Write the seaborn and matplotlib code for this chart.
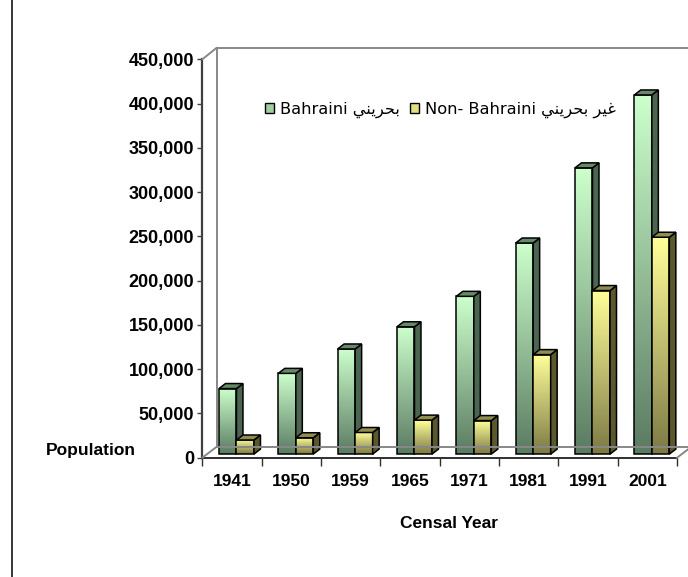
import numpy as np
import pandas as pd
import seaborn as sns
import matplotlib
matplotlib.use('Agg')
import matplotlib.pyplot as plt
from matplotlib import transforms
from matplotlib.lines import Line2D
from matplotlib.patches import Polygon, Patch
from matplotlib.colors import to_rgb
from matplotlib.ticker import FuncFormatter, FixedLocator

# Census data (Bahrain)
years = ['1941', '1950', '1959', '1965', '1971', '1981', '1991', '2001']
bahraini = [74040, 91179, 118734, 143814, 178193, 238420, 323305, 405667]
non_bahraini = [15930, 18471, 24401, 38389, 37885, 112378, 184732, 244937]

# legend labels, Arabic written in shaped visual order
lab_bah = 'Bahraini ' + '\ufef2\ufee8\ufef3\ufeae\ufea4\ufe91'
lab_non = 'Non- Bahraini ' + '\ufef2\ufee8\ufef3\ufeae\ufea4\ufe91' + ' ' + '\ufeae\ufef4\ufecf'

df = pd.DataFrame({
    'year': years * 2,
    'population': bahraini + non_bahraini,
    'group': [lab_bah] * len(years) + [lab_non] * len(years),
})

sns.set_style('white')
plt.rcParams['font.family'] = ['Liberation Sans', 'DejaVu Sans']
plt.rcParams['text.color'] = 'black'
plt.rcParams['xtick.color'] = 'black'
plt.rcParams['ytick.color'] = 'black'

W, H = 688, 577
fig = plt.figure(figsize=(W / 100, H / 100), dpi=100)
fig.patch.set_facecolor('white')

# axes placed in pixel coords
ax_l, ax_r, ax_b, ax_t = 202.3, 677.0, 457.7, 59.3
ax = fig.add_axes([ax_l / W, 1 - ax_b / H, (ax_r - ax_l) / W, (ax_b - ax_t) / H])
ax.set_facecolor('none')

sns.barplot(data=df, x='year', y='population', hue='group', ax=ax,
            palette=['#9fcf9f', '#e0e080'], width=0.59, saturation=1,
            edgecolor='black', linewidth=1.1, errorbar=None, legend=False)

ax.set_xlim(-0.5, 7.5)
ax.set_ylim(0, 450000)

sx = (ax_r - ax_l) / 8.0
sy = (ax_b - ax_t) / 450000.0
ddx = 6.5 / sx
ddy = 5.0 / sy
off = transforms.ScaledTranslation(4.5 / 100, 3.6 / 100, fig.dpi_scale_trans)
trans = ax.transData + off

styles = [
    dict(top='#ccffcc', bot='#5b7b62', side='#4b6650', cap='#668a68'),
    dict(top='#ffff99', bot='#7d7a45', side='#5a582c', cap='#8f8d50'),
]

for i, cont in enumerate(ax.containers):
    st = styles[i]
    base = 3 + i
    c_top = np.array(to_rgb(st['top']))
    c_bot = np.array(to_rgb(st['bot']))
    t = np.linspace(0, 1, 64)[:, None]
    grad = (c_bot * (1 - t) + c_top * t)[:, None, :]
    for p in cont.patches:
        x0, w, h = p.get_x(), p.get_width(), p.get_height()
        x1 = x0 + w
        p.set_transform(trans)
        p.set_facecolor('none')
        p.set_zorder(base + 0.1)
        p.set_clip_on(False)
        im = ax.imshow(grad, extent=[x0, x1, 0, h], origin='lower', aspect='auto',
                       interpolation='bilinear', transform=trans, zorder=base)
        im.set_clip_on(False)
        side = Polygon([(x1, 0), (x1 + ddx, ddy), (x1 + ddx, h + ddy), (x1, h)],
                       closed=True, facecolor=st['side'], edgecolor='black',
                       linewidth=1.1, transform=trans, zorder=base + 0.2, clip_on=False)
        cap = Polygon([(x0, h), (x1, h), (x1 + ddx, h + ddy), (x0 + ddx, h + ddy)],
                      closed=True, facecolor=st['cap'], edgecolor='black',
                      linewidth=1.1, transform=trans, zorder=base + 0.3, clip_on=False)
        ax.add_patch(side)
        ax.add_patch(cap)

ax.set_xlim(-0.5, 7.5)
ax.set_ylim(0, 450000)

# axes styling
for s in ['top', 'right']:
    ax.spines[s].set_visible(False)
ax.spines['left'].set_color('#404040')
ax.spines['left'].set_linewidth(1.6)
ax.spines['bottom'].set_color('#303030')
ax.spines['bottom'].set_linewidth(1.4)

ax.set_yticks(np.arange(0, 450001, 50000))
ax.yaxis.set_major_formatter(FuncFormatter(lambda v, _: f'{int(v):,}'))
ax.tick_params(axis='y', left=True, direction='out', length=3.8, width=1.0, color='#404040',
               pad=2, labelsize=13)
ax.tick_params(axis='x', which='major', bottom=True, length=0, pad=12, labelsize=12.5)
ax.xaxis.set_minor_locator(FixedLocator(np.arange(-0.5, 8, 1.0)))
ax.tick_params(axis='x', which='minor', bottom=True, direction='out', length=5.5,
               width=1.0, color='#303030')
for lab in ax.get_xticklabels() + ax.get_yticklabels():
    lab.set_fontweight('bold')
ax.set_xlabel('')
ax.set_ylabel('')

# legend
handles = [Patch(facecolor='#9fcf9f', edgecolor='black', linewidth=1.0),
           Patch(facecolor='#e0e080', edgecolor='black', linewidth=1.0)]
ax.legend(handles, [lab_bah, lab_non], loc='center left', bbox_to_anchor=(0.132, 0.8727),
          ncol=2, frameon=False, borderpad=0, borderaxespad=0, handlelength=0.55,
          handleheight=0.55, handletextpad=0.4, columnspacing=0.6,
          prop={'family': 'DejaVu Sans', 'size': 11.7})


def px(x, y):
    return x / W, 1 - y / H


def fline(xs, ys, color='#888888', lw=1.4):
    pts = [px(x, y) for x, y in zip(xs, ys)]
    fig.add_artist(Line2D([p[0] for p in pts], [p[1] for p in pts], color=color,
                          linewidth=lw, transform=fig.transFigure, zorder=1))


# 3D wall / floor outline
fline([11.7, 11.7], [0, H], color='black', lw=1.1)
fline([202.3, 216.8], [59.3, 47.7])
fline([216.8, W], [47.7, 47.7])
fline([216.8, 216.8], [47.7, 446.7])
fline([216.8, W], [446.7, 446.7])
fline([202.3, 216.8], [457.7, 446.7])
fline([677.0, 691.5], [457.7, 446.7])

fig.text(*px(91, 451), 'Population', ha='center', va='center', fontsize=12.5, fontweight='bold')
fig.text(*px(449, 524), 'Censal Year', ha='center', va='center', fontsize=12.5, fontweight='bold')

fig.savefig('out.png', dpi=100)
